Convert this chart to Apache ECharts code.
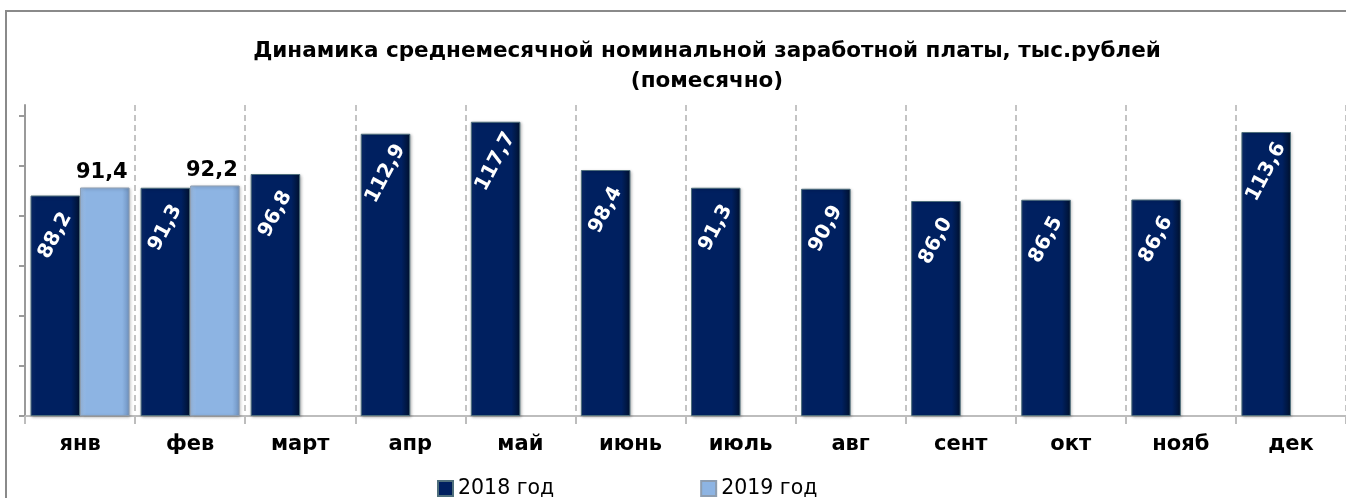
<!DOCTYPE html>
<html>
<head>
<meta charset="utf-8">
<script src="https://cdn.jsdelivr.net/npm/echarts@6/dist/echarts.min.js"></script>
<style>html,body{margin:0;padding:0;background:#fff}#c{width:1346px;height:498px}</style>
</head>
<body>
<div id="c"></div>
<script>
var categories = ['янв','фев','март','апр','май','июнь','июль','авг','сент','окт','нояб','дек'];
var values2018 = [88.2, 91.3, 96.8, 112.9, 117.7, 98.4, 91.3, 90.9, 86.0, 86.5, 86.6, 113.6];
var values2019 = [91.4, 92.2, null, null, null, null, null, null, null, null, null, null];
var yTicks = [0, 20, 40, 60, 80, 100, 120];
var titleLines = ['Динамика среднемесячной номинальной заработной платы, тыс.рублей', '(помесячно)'];
var seriesNames = ['2018 год', '2019 год'];

var FONT = 'DejaVu Sans';
function fmt(p){ return p.value == null ? '' : p.value.toFixed(1).replace('.', ','); }

var chart = echarts.init(document.getElementById('c'), null, {renderer: 'canvas'});
chart.setOption({
  animation: false,
  backgroundColor: '#fff',
  title: {
    text: titleLines.join('\n'),
    left: 702, top: 31, textAlign: 'center',
    textStyle: {fontFamily: FONT, fontWeight: 'bold', fontSize: 21.5, lineHeight: 30, color: '#000'}
  },
  graphic: [{
    type: 'rect', z: -10, silent: true,
    shape: {x: 6, y: 11, width: 1400, height: 520},
    style: {fill: 'none', stroke: '#8a8a8a', lineWidth: 2}
  }],
  legend: {
    left: 432, top: 473, itemGap: 146, itemWidth: 15, itemHeight: 15,
    icon: 'rect',
    textStyle: {fontFamily: FONT, fontSize: 20.5, color: '#000'},
    data: seriesNames
  },
  grid: {left: 25, right: -3, top: 105, bottom: 82, containLabel: false},
  xAxis: {
    type: 'category', data: categories,
    axisLine: {lineStyle: {color: '#bdbdbd', width: 2}},
    axisTick: {show: true, interval: 0, length: 8, lineStyle: {color: '#bdbdbd', width: 2}},
    axisLabel: {interval: 0, margin: 18, fontFamily: FONT, fontWeight: 'bold', fontSize: 21, color: '#000'},
    splitLine: {show: true, interval: 0, lineStyle: {color: '#c4c4c4', width: 2, type: [6, 4]}}
  },
  yAxis: {
    type: 'value', min: 0, max: 124.4, interval: 20,
    axisLine: {show: true, lineStyle: {color: '#9a9a9a', width: 2}},
    axisTick: {show: true, length: 6, customValues: yTicks, lineStyle: {color: '#9a9a9a', width: 2}},
    axisLabel: {show: false},
    splitLine: {show: false}
  },
  series: [{
    name: seriesNames[0], type: 'bar', data: values2018,
    barGap: '0%', barCategoryGap: '10%',
    itemStyle: {
      color: {type: 'linear', x: 0, y: 0, x2: 1, y2: 0, colorStops: [
        {offset: 0, color: '#0c2b6b'}, {offset: 0.12, color: '#002060'},
        {offset: 0.82, color: '#002060'}, {offset: 1, color: '#00112e'}]},
      borderColor: '#4f6f7c', borderWidth: 1,
      shadowColor: 'rgba(0,0,0,0.25)', shadowBlur: 3, shadowOffsetX: 1, shadowOffsetY: 1
    },
    label: {
      show: true, position: 'insideTop', distance: 40, rotate: 62,
      align: 'center', verticalAlign: 'middle',
      formatter: fmt, fontFamily: FONT, fontWeight: 'bold', fontSize: 20, color: '#fff'
    }
  }, {
    name: seriesNames[1], type: 'bar', data: values2019,
    itemStyle: {
      color: {type: 'linear', x: 0, y: 0, x2: 1, y2: 0, colorStops: [
        {offset: 0, color: '#a3c3ea'}, {offset: 0.12, color: '#8db4e3'},
        {offset: 0.85, color: '#8db4e3'}, {offset: 1, color: '#6f92bf'}]},
      borderColor: '#8d9db0', borderWidth: 1,
      shadowColor: 'rgba(0,0,0,0.25)', shadowBlur: 3, shadowOffsetX: 1, shadowOffsetY: 1
    },
    label: {
      show: true, position: 'top', distance: 4, offset: [-3, 0],
      formatter: fmt, fontFamily: FONT, fontWeight: 'bold', fontSize: 21, color: '#000'
    }
  }]
});
</script>
</body>
</html>
